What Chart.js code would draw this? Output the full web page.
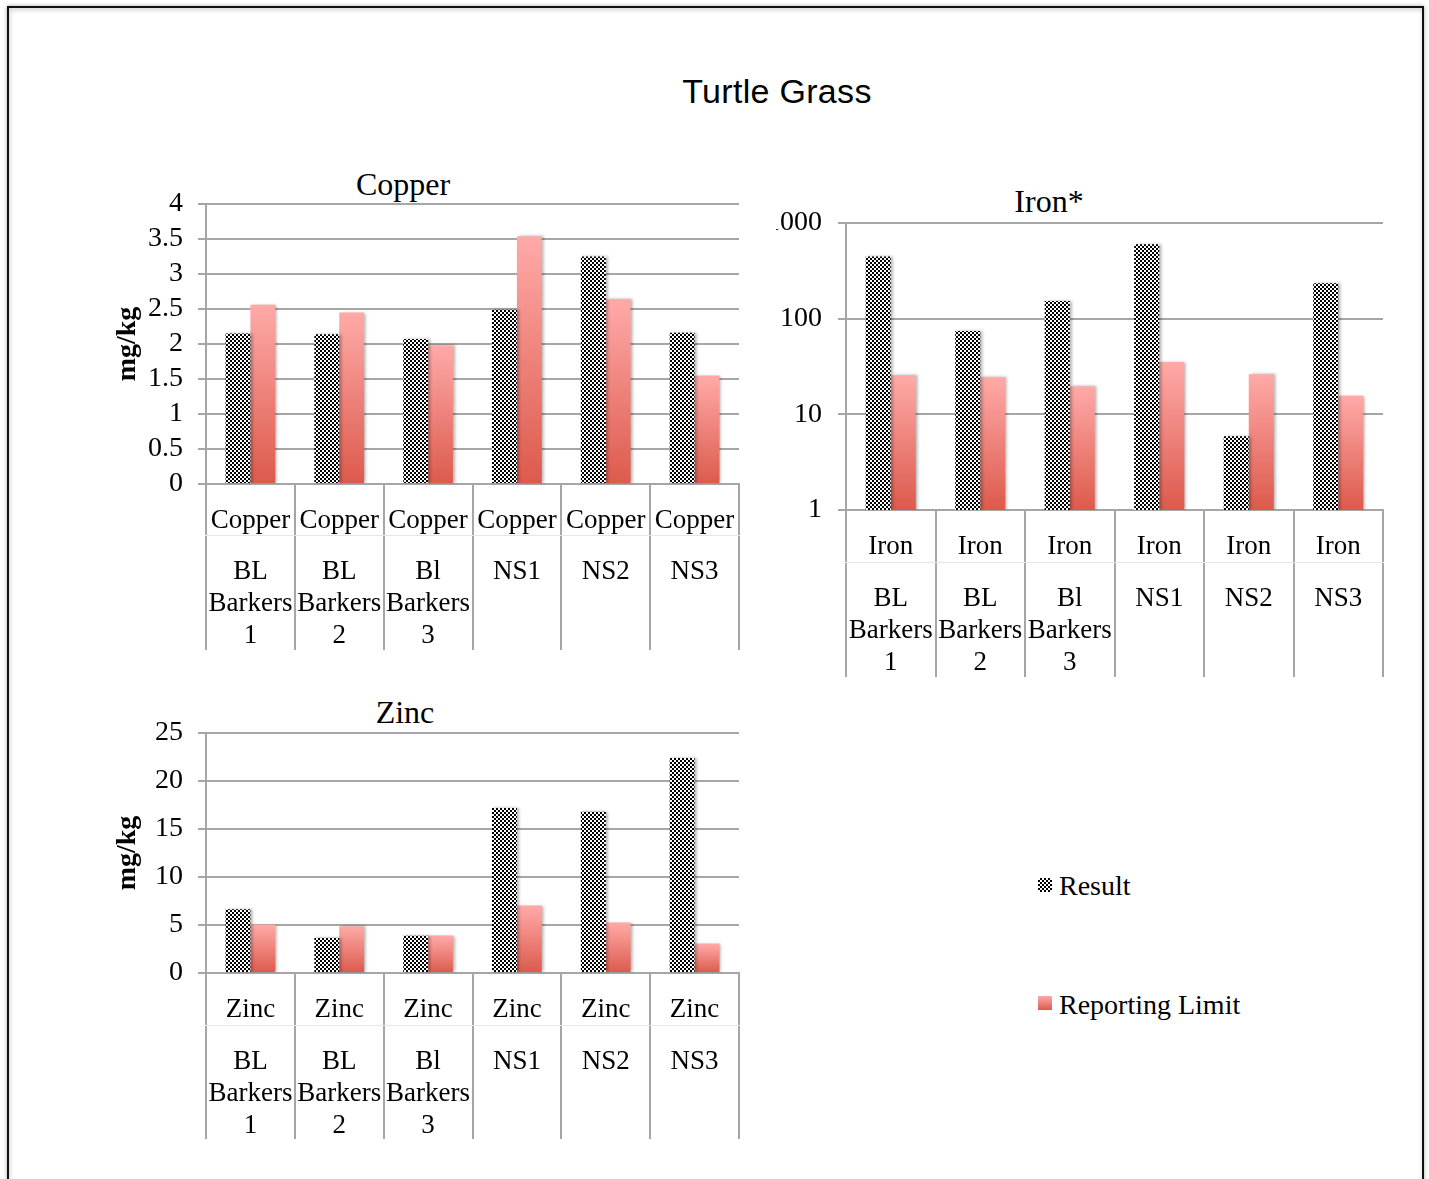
<!DOCTYPE html>
<html>
<head>
<meta charset="utf-8">
<title>Turtle Grass</title>
<script src="https://cdn.jsdelivr.net/npm/chart.js@4/dist/chart.umd.min.js"></script>
<style>
  html, body { margin: 0; padding: 0; background: #fff; overflow: hidden; }
  body { width: 1429px; height: 1179px; position: relative; }
  #frame {
    position: absolute; left: 7px; top: 6px; width: 1417px; height: 1210px;
    box-sizing: border-box; border: 2px solid #111;
    box-shadow: 0 0 4px rgba(0,0,0,0.35), inset 1px 2px 5px rgba(0,0,0,0.18);
  }
  canvas { position: absolute; }
  .txt {
    position: absolute; transform: translate(-50%, -50%); white-space: nowrap;
    font-family: 'Liberation Serif', 'Times New Roman', serif; color: #000; line-height: 1;
  }
  #mainTitle { font-family: 'Liberation Sans', Arial, sans-serif; font-size: 34px; letter-spacing: 0.3px; }
  .sub { font-size: 32px; }
  .legend { position: absolute; font-family: 'Liberation Serif', serif; font-size: 28px; color: #000; line-height: 1; white-space: nowrap; }
  .sw { position: absolute; width: 14px; height: 14px; }
  #swResult {
    background-image: conic-gradient(#000 90deg, #fff 90deg 180deg, #000 180deg 270deg, #fff 270deg);
    background-size: 4px 4px;
  }
  #swLimit { background: linear-gradient(#ffaaa8, #dc5a4c); }
</style>
</head>
<body>
<div id="frame"></div>

<div id="mainTitle" class="txt" style="left:777px; top:91px;">Turtle Grass</div>
<div class="txt sub" style="left:403px; top:184px;">Copper</div>
<div class="txt sub" style="left:1049px; top:201px;">Iron*</div>
<div class="txt sub" style="left:405px; top:712px;">Zinc</div>

<canvas id="copper" width="660" height="520" style="left:100px; top:150px;"></canvas>
<canvas id="iron" width="632" height="520" style="left:776px; top:180px;"></canvas>
<canvas id="zinc" width="660" height="480" style="left:100px; top:680px;"></canvas>

<div id="swResult" class="sw" style="left:1038px; top:878px;"></div>
<div class="legend" style="left:1059px; top:872px;">Result</div>
<div id="swLimit" class="sw" style="left:1038px; top:996px;"></div>
<div class="legend" style="left:1059px; top:991px;">Reporting Limit</div>

<script>
// Sampling sites (multi-line labels) and analytes
const sites = [['BL', 'Barkers', '1'], ['BL', 'Barkers', '2'], ['Bl', 'Barkers', '3'], 'NS1', 'NS2', 'NS3'];
const elements = ['Copper', 'Iron', 'Zinc'];

// Copper, mg/kg
const copperResult = [2.15, 2.14, 2.07, 2.49, 3.25, 2.16];
const copperLimit  = [2.56, 2.45, 1.98, 3.54, 2.64, 1.55];

// Iron, mg/kg (log axis)
const ironResult = [446, 74.5, 153, 601, 5.9, 235];
const ironLimit  = [25.6, 24.4, 19.7, 35.3, 26.3, 15.6];

// Zinc, mg/kg
const zincResult = [6.65, 3.66, 3.87, 17.2, 16.8, 22.4];
const zincLimit  = [5.05, 4.88, 3.90, 7.03, 5.26, 3.07];

// Value axis ticks
const copperTicks = [0, 0.5, 1, 1.5, 2, 2.5, 3, 3.5, 4];
const ironTicks   = [1, 10, 100, 1000];
const zincTicks   = [0, 5, 10, 15, 20, 25];

const SERIF = "'Liberation Serif', 'Times New Roman', serif";
const GRID = '#a6a6a6';

// Black/white checker fill for the Result series
const patCanvas = document.createElement('canvas');
patCanvas.width = 4; patCanvas.height = 4;
const pg = patCanvas.getContext('2d');
pg.fillStyle = '#fff'; pg.fillRect(0, 0, 4, 4);
pg.fillStyle = '#000'; pg.fillRect(0, 0, 2, 2); pg.fillRect(2, 2, 2, 2);
const checker = pg.createPattern(patCanvas, 'repeat');

// Pink-to-red vertical gradient, one per bar
function limitFill(ctx) {
  const chart = ctx.chart, area = chart.chartArea, y = chart.scales.y;
  if (!area || !y || ctx.raw == null) return '#e8776b';
  const top = y.getPixelForValue(ctx.raw);
  const g = chart.ctx.createLinearGradient(0, top, 0, area.bottom);
  g.addColorStop(0, '#ffaaa8');
  g.addColorStop(1, '#dc5a4c');
  return g;
}

// Soft shadow behind the bars
const barShadow = {
  id: 'barShadow',
  beforeDatasetsDraw(chart) {
    const c = chart.ctx;
    c.save();
    c.shadowColor = 'rgba(0,0,0,0.3)';
    c.shadowBlur = 3;
    c.shadowOffsetX = 2;
    c.shadowOffsetY = 0;
  },
  afterDatasetsDraw(chart) { chart.ctx.restore(); }
};

function labelFont() { return { family: SERIF, size: 27, lineHeight: 32 / 27 }; }

function buildChart(id, o) {
  return new Chart(document.getElementById(id), {
    type: 'bar',
    data: {
      labels: sites.map(() => o.element),
      datasets: [
        { label: 'Result', data: o.result, backgroundColor: checker, borderWidth: 0 },
        { label: 'Reporting Limit', data: o.limit, backgroundColor: limitFill, borderWidth: 0 }
      ]
    },
    options: {
      responsive: false,
      animation: false,
      devicePixelRatio: 1,
      layout: { padding: o.pad },
      datasets: { bar: { categoryPercentage: 0.56, barPercentage: 1 } },
      plugins: { legend: { display: false }, tooltip: { enabled: false }, title: { display: false } },
      scales: {
        x: {
          type: 'category', position: 'bottom', weight: 0, offset: true,
          grid: { offset: true, drawOnChartArea: false, color: GRID, tickColor: GRID, lineWidth: 2, tickLength: o.ax1H },
          border: { color: GRID, width: 2 },
          ticks: { autoSkip: false, maxRotation: 0, minRotation: 0, padding: o.ax1Pad, color: '#000', font: labelFont() },
          afterFit(s) { s.height = o.ax1H; }
        },
        site: {
          axis: 'x', type: 'category', position: 'bottom', weight: 1, offset: true, labels: sites,
          grid: { offset: true, drawOnChartArea: false, color: GRID, tickColor: GRID, lineWidth: 2, tickLength: o.ax2H },
          border: { color: '#e6e6e6', width: 1 },
          ticks: { autoSkip: false, maxRotation: 0, minRotation: 0, padding: o.ax2Pad, color: '#000', font: labelFont() },
          afterFit(s) { s.height = o.ax2H; }
        },
        y: {
          type: o.yType, position: 'left',
          min: o.ticks[0], max: o.ticks[o.ticks.length - 1],
          afterBuildTicks(s) { s.ticks = o.ticks.map(v => ({ value: v })); },
          ticks: { autoSkip: false, padding: o.yPad, color: '#000', font: { family: SERIF, size: 28 }, callback: v => String(v) },
          grid: { color: GRID, tickColor: GRID, lineWidth: 2, tickLength: 8 },
          border: { color: GRID, width: 2 },
          title: {
            display: !!o.yTitle, text: o.yTitle, color: '#000',
            font: { family: SERIF, size: 28, weight: 'bold', lineHeight: 1.2 },
            padding: { top: 11, bottom: 0 }
          },
          afterFit(s) { s.width = o.yWidth; }
        }
      }
    },
    plugins: [barShadow]
  });
}

buildChart('copper', {
  element: elements[0], result: copperResult, limit: copperLimit,
  yType: 'linear', ticks: copperTicks, yTitle: 'mg/kg',
  pad: { left: 0, top: 54, right: 21, bottom: 20 }, yWidth: 106, yPad: 15,
  ax1H: 51, ax2H: 115, ax1Pad: -30, ax2Pad: -94
});

buildChart('iron', {
  element: elements[1], result: ironResult, limit: ironLimit,
  yType: 'logarithmic', ticks: ironTicks, yTitle: '',
  pad: { left: 0, top: 43, right: 25, bottom: 23 }, yWidth: 70, yPad: 16,
  ax1H: 52, ax2H: 115, ax1Pad: -31, ax2Pad: -94
});

buildChart('zinc', {
  element: elements[2], result: zincResult, limit: zincLimit,
  yType: 'linear', ticks: zincTicks, yTitle: 'mg/kg',
  pad: { left: 0, top: 53, right: 21, bottom: 21 }, yWidth: 106, yPad: 15,
  ax1H: 52, ax2H: 114, ax1Pad: -31, ax2Pad: -93
});
</script>
</body>
</html>
